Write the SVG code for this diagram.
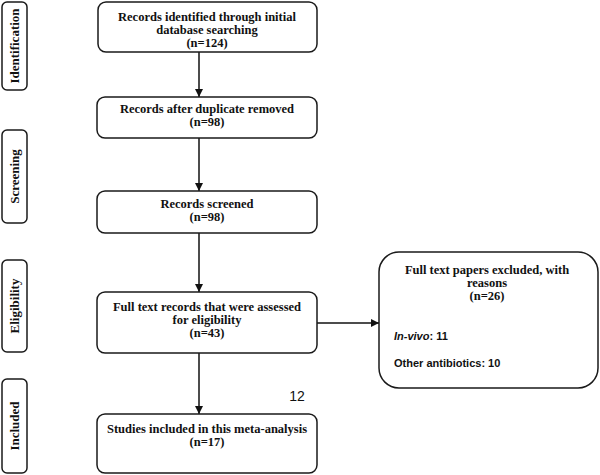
<svg xmlns="http://www.w3.org/2000/svg" width="600" height="475" viewBox="0 0 600 475">
<style>
.box{fill:#fff;stroke:#1a1a1a;stroke-width:1.5}
.t{font-family:"Liberation Serif","Times New Roman",serif;font-weight:bold;font-size:12.5px;fill:#111;text-anchor:middle}
.s{font-family:"Liberation Serif","Times New Roman",serif;font-weight:bold;font-size:13px;fill:#111;text-anchor:middle}
.c{font-family:"Liberation Sans",Arial,sans-serif;font-weight:bold;font-size:11px;fill:#111}
.n{font-family:"Liberation Sans",Arial,sans-serif;font-size:14px;fill:#111}
.ln{stroke:#111;stroke-width:1.5;fill:none;marker-end:url(#ah)}
</style>
<defs>
<marker id="ah" viewBox="0 0 10 10" refX="10" refY="5" markerWidth="8" markerHeight="8" markerUnits="userSpaceOnUse" orient="auto">
<path d="M0,0 L10,5 L0,10 z" fill="#111"/>
</marker>
</defs>
<rect width="600" height="475" fill="#fff"/>
<g id="stage-identification"><rect class="box" x="2" y="2" width="25" height="88" rx="5"/><text class="s" transform="translate(19,46) rotate(-90)">Identification</text></g>
<g id="stage-screening"><rect class="box" x="2" y="130" width="25" height="93" rx="5"/><text class="s" transform="translate(19,176.5) rotate(-90)">Screening</text></g>
<g id="stage-eligibility"><rect class="box" x="2" y="260" width="25" height="92" rx="5"/><text class="s" transform="translate(19,306) rotate(-90)">Eligibility</text></g>
<g id="stage-included"><rect class="box" x="2" y="379" width="25" height="94" rx="5"/><text class="s" transform="translate(19,426) rotate(-90)">Included</text></g>
<g id="connectors">
<line class="ln" x1="199" y1="52" x2="199" y2="97"/>
<line class="ln" x1="199" y1="138" x2="199" y2="191"/>
<line class="ln" x1="199" y1="233" x2="199" y2="292"/>
<line class="ln" x1="199" y1="353" x2="199" y2="414"/>
<line class="ln" x1="317" y1="323" x2="379" y2="323"/>
</g>
<g id="node-identified"><rect class="box" x="98" y="2" width="219" height="50" rx="8"/>
<text class="t" x="207" y="21">Records identified through initial</text>
<text class="t" x="207" y="34">database searching</text>
<text class="t" x="207" y="47">(n=124)</text></g>
<g id="node-duplicates"><rect class="box" x="97" y="97" width="220" height="41" rx="8"/>
<text class="t" x="207" y="113">Records after duplicate removed</text>
<text class="t" x="207" y="126">(n=98)</text></g>
<g id="node-screened"><rect class="box" x="97" y="191" width="220" height="42" rx="8"/>
<text class="t" x="207" y="208">Records screened</text>
<text class="t" x="207" y="221">(n=98)</text></g>
<g id="node-fulltext"><rect class="box" x="97" y="292" width="220" height="61" rx="8"/>
<text class="t" x="207" y="311">Full text records that were assessed</text>
<text class="t" x="207" y="324">for eligibility</text>
<text class="t" x="207" y="337">(n=43)</text></g>
<g id="node-included"><rect class="box" x="97" y="414" width="220" height="59" rx="8"/>
<text class="t" x="207" y="433">Studies included in this meta-analysis</text>
<text class="t" x="207" y="446">(n=17)</text></g>
<g id="node-excluded"><rect class="box" x="379" y="252" width="219" height="136" rx="20"/>
<text class="t" x="487" y="274">Full text papers excluded, with</text>
<text class="t" x="487" y="287">reasons</text>
<text class="t" x="487" y="300">(n=26)</text>
<text class="c" x="394" y="340"><tspan font-style="italic">In-vivo</tspan>: 11</text>
<text class="c" x="394" y="367">Other antibiotics: 10</text></g>
<text class="n" x="297" y="401" text-anchor="middle">12</text>
</svg>
